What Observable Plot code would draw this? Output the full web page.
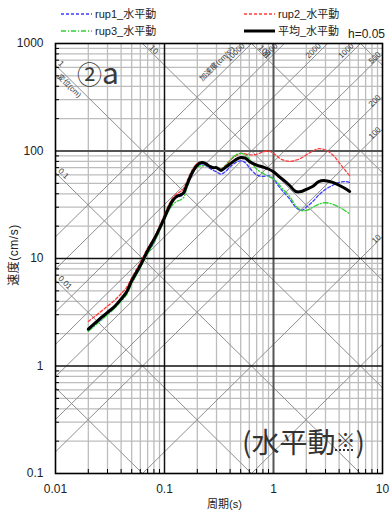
<!DOCTYPE html>
<html><head><meta charset="utf-8">
<script src="https://cdn.jsdelivr.net/npm/d3@7"></script>
<script src="https://cdn.jsdelivr.net/npm/@observablehq/plot@0.6"></script>
<style>
html,body{margin:0;padding:0;background:#fff;}
#wrap{position:relative;width:389px;height:511px;overflow:hidden;font-family:"Liberation Sans","Noto Sans CJK JP",sans-serif;color:#222;}
#wrap svg.chart{position:absolute;left:0;top:0;}
.abs{position:absolute;white-space:nowrap;line-height:1;}
.leg{font-size:11px;font-family:"Liberation Sans","Noto Sans CJK JP",sans-serif;color:#222;}
</style></head><body><div id="wrap"></div>
<script>
// ---- data ----
const periods = [0.02,0.025,0.03,0.035,0.04,0.045,0.05,0.06,0.07,0.08,0.09,0.1,0.11,0.12,0.13,0.14,0.15,0.16,0.18,0.2,0.22,0.24,0.26,0.28,0.3,0.33,0.36,0.4,0.45,0.5,0.55,0.6,0.7,0.8,0.9,1.0,1.1,1.2,1.4,1.6,1.8,2.0,2.3,2.6,3.0,3.5,4.0,4.5,5.0];
const rup1 = [2.15,2.6,3.05,3.5,4.1,4.8,6.0, 8.3,11.3,14,18.5,23.5, 29.5,35,37,38,39.5,46, 61,73,76,73,69,66,64, 61,64,71,78,81,78,70, 60,58,59,55,48,43, 36,30,28,30, 34,39,44,48,51,52,51];
const rup2 = [2.6,3.1,3.6,4.1,4.7,5.4,6.6, 9.2,12.5,15.5,20,25.5, 32,37,40,42,45,52, 67,77,79,76,73,71,70, 68,73,82,90,95,94,92, 93,98,100,95,88,83, 80,82,86,92, 100,105,102,92,78,67,59];
const rup3 = [2.1,2.55,3.0,3.45,4.0,4.6,5.8, 8.2,11,14,18,23, 28,32,34,35,37,45, 62,71,73,73,72,70,69, 68,72,82,92,95,92,84, 68,62,58,55,50,45, 38,31,28,28, 30,32,33,32,30,28,26];
const avg  = [2.2,2.7,3.15,3.6,4.2,4.9,6.2, 8.6,11.8,15,19,24, 30,35,38,39,41,48, 63,74,78,76,72,70,70, 66,70,76,83,87,86,80, 74,71,68,64,59,55, 48,42,42,44, 47,52,53,51,48,45,42];
const seriesNames = ["rup1_水平動","rup2_水平動","rup3_水平動","平均_水平動"];
const xTicks = [0.01,0.1,1,10];
const yTicks = [0.1,1,10,100,1000];
const dispLines = [0.001,0.01,0.1,1,10,100,1000];       // 変位 (cm)
const accLines = [1,10,100,200,500,1000,2000,5000,10000]; // 加速度 (cm/s2)
const dispLeftLabels = [1,0.1,0.01];
const dispTopLabels = [10,100];
const accTopLabels = [10000,5000,2000,1000];
const accRightLabels = [500,200,100,10];
const dispName = "変位(cm)";
const accName = "加速度(cm/s²)";

// ---- build ----
const T0 = xTicks[0], T1 = xTicks[xTicks.length-1];
const V0 = yTicks[0], V1 = yTicks[yTicks.length-1];
const TP = 2*Math.PI;
const pxX = 109, pxY = 107.5; // px per decade (for label nudges)
const ang = Math.atan(pxY/pxX)*180/Math.PI;

const decadesX = xTicks.slice(0,-1), decadesY = yTicks.slice(0,-1);
const minorT = decadesX.flatMap(d => d3.range(2,10).map(k => k*d));
const minorV = decadesY.flatMap(d => d3.range(2,10).map(k => k*d));

const dispSeg = dispLines.map(D => {
  const a = Math.max(T0, TP*D/V1), b = Math.min(T1, TP*D/V0);
  return {x1:a, y1:TP*D/a, x2:b, y2:TP*D/b, ok:a<b};
}).filter(d=>d.ok);
const accSeg = accLines.map(A => {
  const a = Math.max(T0, TP*V0/A), b = Math.min(T1, TP*V1/A);
  return {x1:a, y1:A*a/TP, x2:b, y2:A*b/TP, ok:a<b};
}).filter(d=>d.ok);

const tLeft = T0*Math.pow(10, 2/pxX);
const dLeft = dispLeftLabels.map(D => ({x:tLeft, y:TP*D/tLeft, t:String(D)}));
const vTopD = V1*Math.pow(10,-6/pxY);
const dTop = dispTopLabels.map(D => ({x:TP*D/vTopD, y:vTopD, t:String(D)}));
const vTopA = V1*Math.pow(10,-4/pxY);
const aTop = accTopLabels.map(A => ({x:TP*vTopA/A, y:vTopA, t:String(A)}));
const tRight = T1*Math.pow(10,-1/pxX);
const aRight = accRightLabels.map(A => ({x:tRight, y:A*tRight/TP, t:String(A)}));
const dName = [{x:tLeft, y:TP*1/tLeft, t:dispName}];
const vAccName = V1*Math.pow(10,-11/pxY);
const aName = [{x:TP*vAccName/accLines[accLines.length-1], y:vAccName, t:accName}];

const seriesData = [rup1, rup2, rup3, avg].map(vals => periods.map((T,i)=>({T, v:vals[i]})));
const seriesStyle = [
  {stroke:"#3c3cff", strokeWidth:1.3, strokeDasharray:"3,2"},
  {stroke:"#ff3c3c", strokeWidth:1.3, strokeDasharray:"3,2"},
  {stroke:"#2fd12f", strokeWidth:1.3, strokeDasharray:"5,2,1,2"},
  {stroke:"#000", strokeWidth:3, strokeDasharray:null}
];
const drawOrder = [0,1,2,3];

const lblStyle = {fontSize:8, fill:"#333", fontFamily:'"Liberation Sans","Noto Sans CJK JP",sans-serif'};

const plot = Plot.plot({
  width:389, height:511, marginLeft:55, marginRight:7, marginTop:43, marginBottom:38,
  style:{fontFamily:'"Liberation Sans","Noto Sans CJK JP",sans-serif', fontSize:"12px", color:"#222", background:"transparent", overflow:"visible"},
  x:{type:"log", domain:[T0,T1]},
  y:{type:"log", domain:[V0,V1]},
  marks:[
    Plot.ruleX(minorT, {stroke:"#bdbdbd", strokeWidth:1.3}),
    Plot.ruleY(minorV, {stroke:"#bdbdbd", strokeWidth:1.3}),
    Plot.link(dispSeg, {x1:"x1", y1:"y1", x2:"x2", y2:"y2", stroke:"#8f8f8f", strokeWidth:1}),
    Plot.link(accSeg, {x1:"x1", y1:"y1", x2:"x2", y2:"y2", stroke:"#8f8f8f", strokeWidth:1}),
    Plot.ruleX([xTicks[1]], {stroke:"#111", strokeWidth:1.5}),
    Plot.ruleX([xTicks[2]], {stroke:"#555", strokeWidth:2}),
    Plot.ruleY([yTicks[1], yTicks[2]], {stroke:"#111", strokeWidth:1.4}),
    Plot.ruleY([yTicks[3]], {stroke:"#555", strokeWidth:2}),
    Plot.text(dLeft, {x:"x", y:"y", text:"t", rotate:ang, textAnchor:"start", dx:2, dy:-5, ...lblStyle}),
    Plot.text(dTop, {x:"x", y:"y", text:"t", rotate:ang, textAnchor:"start", dx:2, dy:-3, ...lblStyle}),
    Plot.text(dName, {x:"x", y:"y", text:"t", rotate:ang, textAnchor:"start", dx:1, dy:8, ...lblStyle, fontSize:7.5}),
    Plot.text(aTop, {x:"x", y:"y", text:"t", rotate:-ang, textAnchor:"end", dx:-4, dy:-3, ...lblStyle}),
    Plot.text(aRight, {x:"x", y:"y", text:"t", rotate:-ang, textAnchor:"end", dx:-2, dy:-2, ...lblStyle}),
    Plot.text(aName, {x:"x", y:"y", text:"t", rotate:-ang, textAnchor:"end", dx:-7, dy:-7, ...lblStyle, fontSize:7.5}),
    ...drawOrder.map(i => Plot.line(seriesData[i], {x:"T", y:"v", curve:"catmull-rom", ...seriesStyle[i]})),
    Plot.axisY(minorV, {tickSize:-4, tickFormat:()=>"", label:null, stroke:"#000"}),
    Plot.axisX(minorT, {tickSize:-4, tickFormat:()=>"", label:null, stroke:"#000"}),
    Plot.axisY(yTicks, {tickSize:0, tickPadding:12, tickFormat:d=>String(d), label:null, fontSize:12}),
    Plot.axisX(xTicks, {tickSize:0, tickPadding:11, tickFormat:d=>String(d), label:null, fontSize:12}),
    Plot.frame({stroke:"#000", strokeWidth:1.6})
  ]
});
plot.classList.add("chart");
const wrap = document.getElementById("wrap");
wrap.appendChild(plot);

// ---- legend & annotations (HTML) ----
function sample(st){
  const dash = st.strokeDasharray ? `stroke-dasharray="${st.strokeDasharray}"` : "";
  return `<svg width="31" height="6" style="vertical-align:middle"><line x1="0" y1="3" x2="31" y2="3" stroke="${st.stroke}" stroke-width="${st.strokeWidth}" ${dash}/></svg>`;
}
const legPos = [[61,8],[244,8],[61,25],[244,25]];
seriesNames.forEach((n,i)=>{
  const d = document.createElement("div");
  d.className = "abs leg";
  d.style.left = legPos[i][0]+"px"; d.style.top = legPos[i][1]+"px";
  d.innerHTML = sample(seriesStyle[i]) + `<span style="margin-left:3px;vertical-align:middle">${n}</span>`;
  wrap.appendChild(d);
});
function addText(html, css){
  const d = document.createElement("div");
  d.className = "abs"; d.innerHTML = html; Object.assign(d.style, css); wrap.appendChild(d);
}
addText("h=0.05", {left:"348px", top:"28px", fontSize:"12px"});
addText('<span style="font-size:25px">②</span><span style="font-size:30px">a</span>',
  {left:"77px", top:"56px", color:"#3a3a3a", fontFamily:'"Noto Sans CJK JP",sans-serif'});
addText('(水平動<span style="font-size:20px;vertical-align:5px;text-decoration:underline dotted;">※</span>)',
  {left:"242px", top:"427px", fontSize:"28px", color:"#333", fontFamily:'"Noto Sans CJK JP",sans-serif'});
addText("速度(cm/s)", {left:"14px", top:"255px", fontSize:"12px", transform:"translate(-50%,-50%) rotate(-90deg)", letterSpacing:"0.5px"});
addText("周期(s)", {left:"207px", top:"499px", fontSize:"11px"});
</script>
</body></html>
